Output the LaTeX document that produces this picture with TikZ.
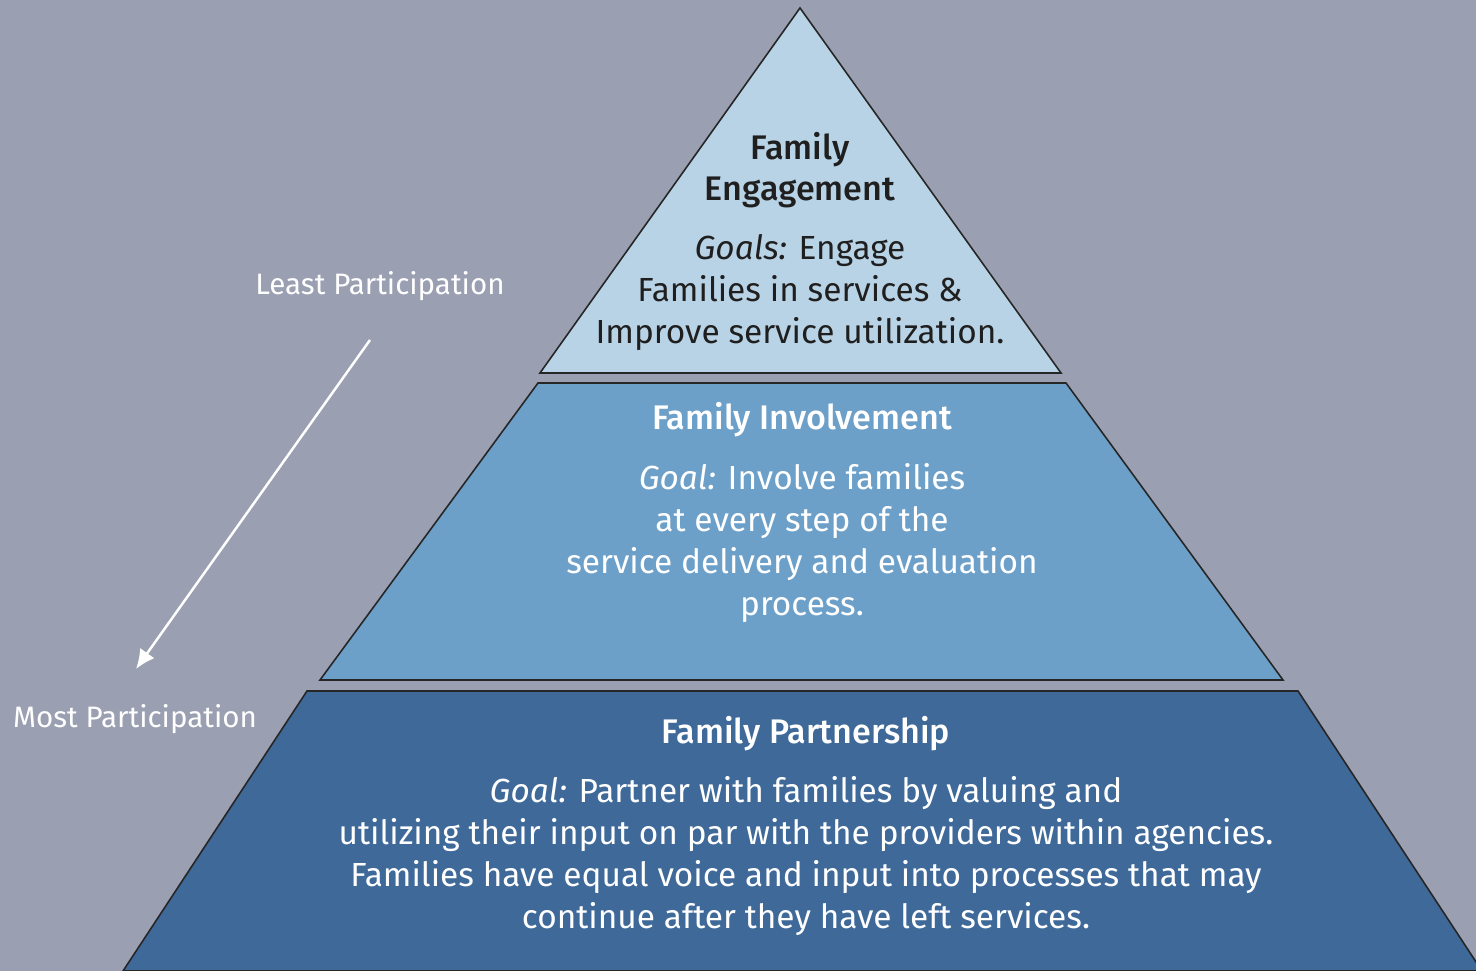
\documentclass[tikz,border=0pt]{standalone}
\usepackage{fontspec}
\setmainfont{Fira Sans}
\newfontfamily\titlefont{Fira Sans Medium}
\usetikzlibrary{arrows.meta}
\usetikzlibrary{positioning}

\definecolor{backgrey}{HTML}{9A9FB2}
\definecolor{toplight}{HTML}{B8D3E6}
\definecolor{midblue}{HTML}{6DA0C9}
\definecolor{lowblue}{HTML}{3F6999}

\begin{document}
\begin{tikzpicture}[x=0.01cm,y=-0.01cm,
	layer/.style={draw=black!85, line width=0.45pt},
	title/.style={font=\titlefont\fontsize{9.7}{11.7}\selectfont, align=center},
	goal/.style={font=\fontsize{9.5}{11.95}\selectfont, align=center},
	side/.style={font=\fontsize{8.4}{10}\selectfont, text=white}]
	\fill[backgrey] (0,0) rectangle (1476,971);
	\useasboundingbox (0,0) rectangle (1476,971);
	% the three layers
	\filldraw[layer, fill=toplight] (800,8) -- (1061,373) -- (540,373) -- cycle;
	\filldraw[layer, fill=midblue] (538,383) -- (1066,383) -- (1283,680) -- (320,680) -- cycle;
	\filldraw[layer, fill=lowblue] (307,691) -- (1298,691) -- (1482,971) -- (123,971) -- cycle;
	% texts
	\node[title, text=black!88] (engtitle) at (800,170) {Family\\Engagement};
	\node[goal, text=black!88] (enggoal) at (800,293) {\textit{Goals:} Engage\\Families in services \&\\Improve service utilization.};
	\node[title, text=white] (invtitle) at (802,420) {Family Involvement};
	\node[goal, text=white] (invgoal) at (802,543) {\textit{Goal:} Involve families\\at every step of the\\service delivery and evaluation\\process.};
	\node[title, text=white] (partitle) at (806,734) {Family Partnership};
	\node[goal, text=white] (pargoal) at (806,856) {\textit{Goal:} Partner with families by valuing and\\utilizing their input on par with the providers within agencies.\\Families have equal voice and input into processes that may\\continue after they have left services.};
	% participation arrow
	\node[side] (least) at (380,286) {Least Participation};
	\node[side] (most) at (135,719) {Most Participation};
	\coordinate (arrowtop) at (370,340);
	\coordinate (arrowtip) at (136,669);
	\draw[white, line width=0.7pt, -{Latex[length=5.5pt,width=5pt]}] (arrowtop) -- (arrowtip);
\end{tikzpicture}
\end{document}
